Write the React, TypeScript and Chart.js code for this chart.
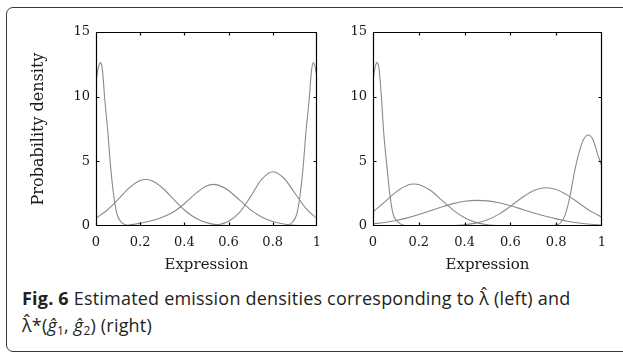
import React, { useEffect, useRef } from 'react';
import { Chart, registerables } from 'chart.js';

Chart.register(...registerables);

// ---------- axes ----------
const xTickValues = [0, 0.2, 0.4, 0.6, 0.8, 1];
const xTickLabels = ['0', '0.2', '0.4', '0.6', '0.8', '1'];
const yTickValues = [0, 5, 10, 15];
const yTickLabels = ['0', '5', '10', '15'];
const xAxisTitle = 'Expression';
const yAxisTitle = 'Probability density';

// ---------- left panel (lambda hat) ----------
const leftSpikeLowX = [0, 0.005, 0.01, 0.015, 0.02, 0.025, 0.03, 0.04, 0.054, 0.066, 0.079, 0.094, 0.113, 0.135, 0.16, 0.2, 0.5, 1];
const leftSpikeLowY = [11.0, 11.7, 12.2, 12.5, 12.63, 12.5, 11.9, 9.74, 7.17, 4.59, 2.53, 0.98, 0.33, 0.08, 0.01, 0, 0, 0];

const leftBumpAX = [0, 0.05, 0.1, 0.15, 0.2, 0.225, 0.25, 0.3, 0.35, 0.4, 0.45, 0.5, 0.55, 0.6, 0.7, 1];
const leftBumpAY = [0.6, 1.22, 2.05, 2.95, 3.52, 3.6, 3.52, 2.96, 2.09, 1.24, 0.62, 0.26, 0.09, 0.03, 0, 0];

const leftBumpBX = [0, 0.1, 0.15, 0.2, 0.25, 0.3, 0.35, 0.4, 0.45, 0.5, 0.53, 0.55, 0.6, 0.65, 0.7, 0.75, 0.8, 0.85, 0.9, 0.95, 1];
const leftBumpBY = [0, 0.02, 0.08, 0.22, 0.4, 0.68, 1.08, 1.72, 2.5, 3.1, 3.22, 3.18, 2.75, 2.0, 1.25, 0.7, 0.35, 0.15, 0.05, 0.01, 0];

const leftBumpCX = [0, 0.4, 0.5, 0.55, 0.6, 0.65, 0.7, 0.75, 0.8, 0.85, 0.9, 0.95, 1];
const leftBumpCY = [0, 0, 0.02, 0.09, 0.36, 1.05, 2.27, 3.6, 4.2, 3.71, 2.55, 1.37, 0.57];

const leftSpikeHighX = [0, 0.5, 0.8, 0.84, 0.87, 0.891, 0.91, 0.925, 0.938, 0.95, 0.965, 0.975, 0.984, 0.992, 1];
const leftSpikeHighY = [0, 0, 0, 0.01, 0.08, 0.33, 0.98, 2.53, 4.59, 7.17, 9.74, 11.9, 12.63, 12.3, 11.5];

// ---------- right panel (lambda hat star) ----------
const rightSpikeLowX = [0, 0.005, 0.01, 0.0175, 0.0225, 0.0275, 0.037, 0.047, 0.061, 0.073, 0.087, 0.11, 0.13, 0.16, 0.5, 1];
const rightSpikeLowY = [11.1, 11.9, 12.35, 12.63, 12.5, 12.0, 9.9, 7.17, 4.59, 2.53, 0.98, 0.3, 0.08, 0.01, 0, 0];

const rightBumpDX = [0, 0.05, 0.1, 0.15, 0.18, 0.2, 0.25, 0.3, 0.35, 0.4, 0.45, 0.5, 0.55, 0.6, 0.7, 1];
const rightBumpDY = [1.09, 1.84, 2.62, 3.15, 3.25, 3.21, 2.76, 2.0, 1.23, 0.64, 0.28, 0.1, 0.03, 0.01, 0, 0];

const rightBumpEX = [0, 0.05, 0.1, 0.15, 0.2, 0.25, 0.3, 0.35, 0.4, 0.455, 0.5, 0.55, 0.6, 0.65, 0.7, 0.75, 0.8, 0.85, 0.9, 0.95, 1];
const rightBumpEY = [0.17, 0.27, 0.42, 0.63, 0.89, 1.18, 1.47, 1.73, 1.91, 1.98, 1.94, 1.8, 1.57, 1.3, 1.02, 0.77, 0.55, 0.37, 0.23, 0.13, 0.07];

const rightBumpFX = [0, 0.3, 0.35, 0.4, 0.45, 0.5, 0.55, 0.6, 0.65, 0.7, 0.755, 0.8, 0.85, 0.9, 0.95, 1];
const rightBumpFY = [0, 0.01, 0.03, 0.09, 0.22, 0.48, 0.92, 1.52, 2.18, 2.72, 2.96, 2.82, 2.37, 1.76, 1.15, 0.67];

const rightSpikeHighX = [0, 0.7, 0.78, 0.8, 0.82, 0.84, 0.86, 0.88, 0.9, 0.92, 0.94, 0.96, 0.98, 1];
const rightSpikeHighY = [0, 0, 0.01, 0.07, 0.25, 0.9, 2.3, 4.2, 5.7, 6.7, 7.04, 6.7, 5.6, 4.6];

const leftSeries = [
  [leftSpikeLowX, leftSpikeLowY],
  [leftBumpAX, leftBumpAY],
  [leftBumpBX, leftBumpBY],
  [leftBumpCX, leftBumpCY],
  [leftSpikeHighX, leftSpikeHighY],
];
const rightSeries = [
  [rightSpikeLowX, rightSpikeLowY],
  [rightBumpDX, rightBumpDY],
  [rightBumpEX, rightBumpEY],
  [rightBumpFX, rightBumpFY],
  [rightSpikeHighX, rightSpikeHighY],
];

const SERIF = "'DejaVu Serif', 'Liberation Serif', serif";
const TEXT = '#1a1a1a';
const CURVE = '#8a8a8a';

const framePlugin = {
  id: 'frame',
  afterDatasetsDraw(chart: any) {
    const { ctx, chartArea: a, scales } = chart;
    const l = Math.round(a.left) + 0.5;
    const r = Math.round(a.right) - 0.5;
    const t = Math.round(a.top) + 0.5;
    const b = Math.round(a.bottom) - 0.5;
    ctx.save();
    ctx.strokeStyle = '#000';
    ctx.lineWidth = 1.2;
    ctx.beginPath();
    ctx.rect(l, t, r - l, b - t);
    const len = 3;
    xTickValues.slice(1, -1).forEach((v) => {
      const px = Math.round(scales.x.getPixelForValue(v)) + 0.5;
      ctx.moveTo(px, b); ctx.lineTo(px, b - len);
      ctx.moveTo(px, t); ctx.lineTo(px, t + len);
    });
    yTickValues.slice(1, -1).forEach((v) => {
      const py = Math.round(scales.y.getPixelForValue(v)) + 0.5;
      ctx.moveTo(l, py); ctx.lineTo(l + len, py);
      ctx.moveTo(r, py); ctx.lineTo(r - len, py);
    });
    ctx.stroke();
    ctx.restore();
  },
};

type PanelProps = {
  series: number[][][];
  left: number;
  width: number;
  height: number;
  yWidth: number;
  padRight: number;
  showYTitle: boolean;
};

function Panel({ series, left, width, height, yWidth, padRight, showYTitle }: PanelProps) {
  const ref = useRef<HTMLCanvasElement>(null);
  useEffect(() => {
    const chart = new Chart(ref.current as HTMLCanvasElement, {
      type: 'line',
      data: {
        datasets: series.map(([xs, ys]) => ({
          data: xs.map((x, i) => ({ x, y: ys[i] })),
          borderColor: CURVE,
          borderWidth: 1.1,
          pointRadius: 0,
          fill: false,
          cubicInterpolationMode: 'monotone' as const,
        })),
      },
      options: {
        animation: false,
        responsive: false,
        devicePixelRatio: 1,
        layout: { padding: { top: 32, right: padRight, left: 0, bottom: 0 } },
        plugins: { legend: { display: false }, tooltip: { enabled: false } },
        scales: {
          x: {
            type: 'linear',
            min: 0,
            max: 1,
            afterBuildTicks: (s: any) => { s.ticks = xTickValues.map((v) => ({ value: v })); },
            afterFit: (s: any) => { s.height = height - 226; },
            grid: { display: false, drawTicks: false, tickLength: 0 },
            border: { display: false },
            ticks: {
              autoSkip: false,
              maxRotation: 0,
              padding: 9,
              color: TEXT,
              font: { family: SERIF, size: 13 },
              callback: (_v: any, i: number) => xTickLabels[i],
            },
            title: {
              display: true,
              text: xAxisTitle,
              color: TEXT,
              font: { family: SERIF, size: 15 },
              padding: { top: 0, bottom: 8 },
            },
          },
          y: {
            type: 'linear',
            min: 0,
            max: 15,
            afterBuildTicks: (s: any) => { s.ticks = yTickValues.map((v) => ({ value: v })); },
            afterFit: (s: any) => { s.width = yWidth; },
            grid: { display: false, drawTicks: false, tickLength: 0 },
            border: { display: false },
            ticks: {
              autoSkip: false,
              padding: 6,
              color: TEXT,
              font: { family: SERIF, size: 13 },
              callback: (_v: any, i: number) => yTickLabels[i],
            },
            title: {
              display: showYTitle,
              text: yAxisTitle,
              color: TEXT,
              font: { family: SERIF, size: 16 },
              padding: { top: 29, bottom: 0 },
            },
          },
        },
      },
      plugins: [framePlugin],
    } as any);
    return () => chart.destroy();
  }, []);
  return (
    <canvas
      ref={ref}
      width={width}
      height={height}
      style={{ position: 'absolute', left, top: 0, width, height }}
    />
  );
}

export default function App() {
  return (
    <div
      style={{
        position: 'absolute',
        left: 0,
        top: 0,
        width: 623,
        height: 353,
        overflow: 'hidden',
        background: '#fff',
      }}
    >
      <div
        style={{
          position: 'absolute',
          left: 6,
          top: 7,
          width: 660,
          height: 345,
          boxSizing: 'border-box',
          border: '1px solid #3a3a3a',
          borderRadius: 7,
        }}
      />
      <Panel series={leftSeries} left={0} width={330} height={282} yWidth={96} padRight={7} showYTitle={true} />
      <Panel series={rightSeries} left={330} width={293} height={282} yWidth={43} padRight={21} showYTitle={false} />
      <div
        style={{
          position: 'absolute',
          left: 22,
          top: 285,
          fontFamily: "'Open Sans', 'Noto Sans', sans-serif",
          fontSize: 18,
          letterSpacing: '0.2px',
          lineHeight: '27px',
          color: '#231f20',
          whiteSpace: 'nowrap',
        }}
      >
        <div>
          <b>Fig. 6</b> Estimated emission densities corresponding to λ̂ (left) and
        </div>
        <div>
          λ̂*(<i>ĝ</i><sub style={{ fontSize: 12, verticalAlign: '-3px', lineHeight: 0 }}>1</sub>,{' '}
          <i>ĝ</i><sub style={{ fontSize: 12, verticalAlign: '-3px', lineHeight: 0 }}>2</sub>) (right)
        </div>
      </div>
    </div>
  );
}
